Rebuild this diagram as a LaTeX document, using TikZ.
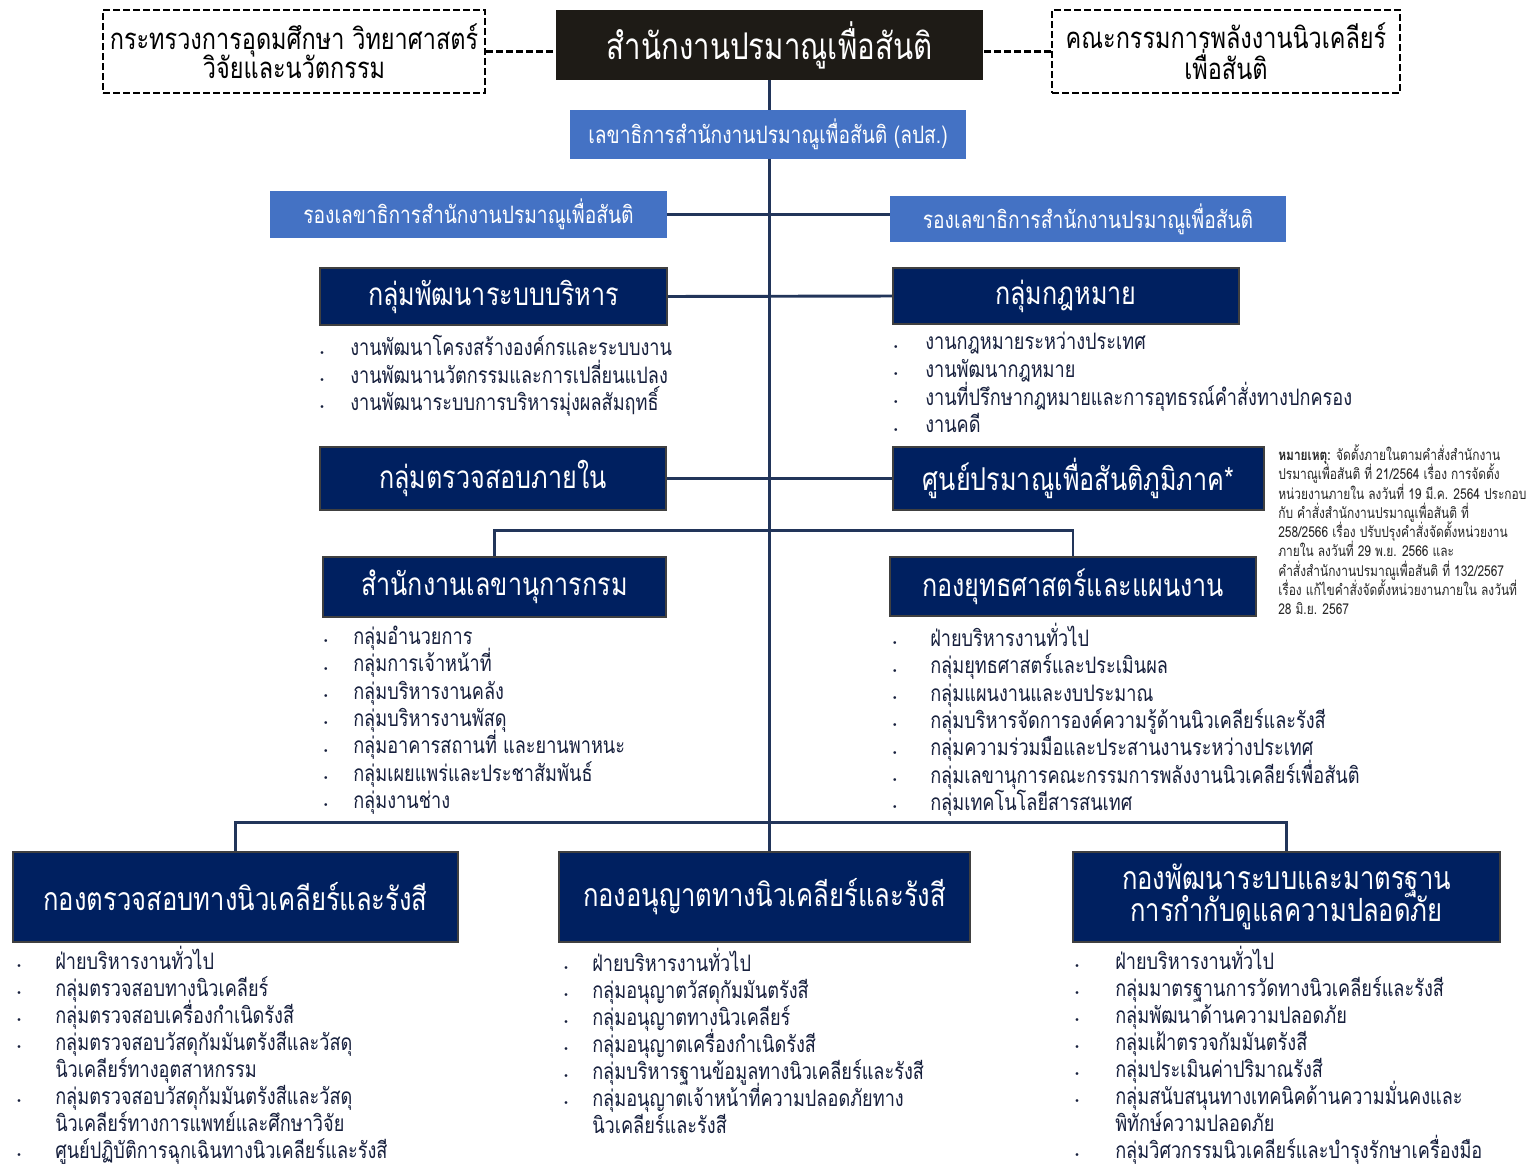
\documentclass[tikz,border=0pt]{standalone}
\usepackage{fontspec}
\setmainfont{Loma}[Script=Thai, FakeStretch=0.8]
\newfontfamily\dotfont{DejaVu Sans}
\usetikzlibrary{positioning, backgrounds}
\definecolor{oapnavy}{HTML}{002060}
\definecolor{oapblue}{HTML}{4472C4}
\definecolor{oapblack}{HTML}{1E1B16}
\definecolor{oapline}{HTML}{22355A}
\definecolor{oaptext}{HTML}{17203D}
\def\bulgap{19pt}
\newcommand{\itm}{\strut\llap{\raisebox{-0.3pt}{\dotfont\fontsize{7}{7}\selectfont •}\hspace{\bulgap}}}
\newcommand{\nxt}{\strut}
\newcommand{\evenlines}{\lineskiplimit=-50pt\lineskip=0pt}
\tikzset{
x=0.75pt, y=-0.75pt, % one unit is one pixel of the layout
every node/.style={inner sep=0pt}, % boxes get their size from minimum width/height
headbox/.style={fill=oapblack, text=white, font=\fontsize{27.6}{30}\selectfont}, % the office itself
dashbox/.style={draw=black, fill=white, dash pattern=on 5pt off 2.5pt, line width=1.8pt, align=center, font=\fontsize{22}{22}\selectfont\evenlines}, % outside bodies
bluebox/.style={fill=oapblue, text=white, font=\fontsize{18}{20}\selectfont}, % secretary general and deputies
unitbox/.style={fill=oapnavy, draw=black!75, line width=0.8pt, text=white, font=\fontsize{23.6}{26}\selectfont}, % groups and divisions
bigunit/.style={unitbox, align=center, font=\fontsize{24}{23.5}\selectfont\evenlines}, % the three bureaus at the bottom
itemlist/.style={anchor=north west, align=left, text=oaptext, font=\fontsize{17}{20.5}\selectfont\evenlines}, % bulleted sub units
bottomlist/.style={itemlist, font=\fontsize{17}{20.2}\selectfont\evenlines}, % a little tighter near the page edge
bullet gap/.style={execute at begin node={\def\bulgap{#1}}}, % space between dot and text
conn/.style={draw=oapline, line width=2.2pt}, % solid lines of command
dashconn/.style={draw=black, dash pattern=on 5pt off 2.5pt, line width=1.8pt}, % dashed links
}
\begin{document}
\begin{tikzpicture}
\useasboundingbox (0,0) rectangle (1532,1168);

% top row
\node[headbox, minimum width=320.25pt, minimum height=52.5pt] (oap) at (769.5,45) {สำนักงานปรมาณูเพื่อสันติ};
\node[dashbox, minimum width=286.5pt, minimum height=62.25pt] (mhesi) at (294,51.5) {กระทรวงการอุดมศึกษา วิทยาศาสตร์\\วิจัยและนวัตกรรม};
\node[dashbox, minimum width=261pt, minimum height=62.25pt, font=\fontsize{22}{23.5}\selectfont\evenlines] (aec) at (1226,51.5) {คณะกรรมการพลังงานนิวเคลียร์\\เพื่อสันติ};

% secretary general and deputies
\node[bluebox, minimum width=297pt, minimum height=36.75pt] (sec) at (768,134.5) {เลขาธิการสำนักงานปรมาณูเพื่อสันติ (ลปส.)};
\node[bluebox, minimum width=297.75pt, minimum height=35.25pt] (depL) at (468.5,214.5) {รองเลขาธิการสำนักงานปรมาณูเพื่อสันติ};
\node[bluebox, minimum width=297pt, minimum height=34.5pt] (depR) at (1088,219) {รองเลขาธิการสำนักงานปรมาณูเพื่อสันติ};

% groups beside the line
\node[unitbox, minimum width=260.25pt, minimum height=42.75pt] (admdev) at (493.5,296.5) {กลุ่มพัฒนาระบบบริหาร};
\node[unitbox, minimum width=259.5pt, minimum height=42pt] (legal) at (1066,296) {กลุ่มกฎหมาย};
\node[unitbox, minimum width=259.5pt, minimum height=47.25pt] (audit) at (493,478.5) {กลุ่มตรวจสอบภายใน};
\node[unitbox, minimum width=278.25pt, minimum height=47.25pt] (regional) at (1078.5,478.5) {ศูนย์ปรมาณูเพื่อสันติภูมิภาค*};

\node[itemlist] (admdev-list) at (350,335) {\itm งานพัฒนาโครงสร้างองค์กรและระบบงาน\\\itm งานพัฒนานวัตกรรมและการเปลี่ยนแปลง\\\itm งานพัฒนาระบบการบริหารมุ่งผลสัมฤทธิ์};
\node[itemlist, bullet gap=20pt, font=\fontsize{17}{20.8}\selectfont\evenlines] (legal-list) at (925,330) {\itm งานกฎหมายระหว่างประเทศ\\\itm งานพัฒนากฎหมาย\\\itm งานที่ปรึกษากฎหมายและการอุทธรณ์คำสั่งทางปกครอง\\\itm งานคดี};

% note on the regional centres
\node[anchor=north west, align=left, text=black!85, font=\fontsize{11.2}{14.44}\selectfont\evenlines] (note) at (1278,444.5) {\strut\textbf{หมายเหตุ:} จัดตั้งภายในตามคำสั่งสำนักงาน\\ปรมาณูเพื่อสันติ ที่ 21/2564 เรื่อง การจัดตั้ง\\หน่วยงานภายใน ลงวันที่ 19 มี.ค. 2564 ประกอบ\\กับ คำสั่งสำนักงานปรมาณูเพื่อสันติ ที่\\258/2566 เรื่อง ปรับปรุงคำสั่งจัดตั้งหน่วยงาน\\ภายใน ลงวันที่ 29 พ.ย. 2566 และ\\คำสั่งสำนักงานปรมาณูเพื่อสันติ ที่ 132/2567\\เรื่อง แก้ไขคำสั่งจัดตั้งหน่วยงานภายใน ลงวันที่\\28 มิ.ย. 2567};

% second level
\node[unitbox, minimum width=257.25pt, minimum height=45pt] (secoff) at (494.5,587) {สำนักงานเลขานุการกรม};
\node[unitbox, minimum width=274.5pt, minimum height=44.25pt] (strat) at (1073,586.5) {กองยุทธศาสตร์และแผนงาน};

\node[itemlist, bullet gap=18.5pt] (secoff-list) at (353,625) {\itm กลุ่มอำนวยการ\\\itm กลุ่มการเจ้าหน้าที่\\\itm กลุ่มบริหารงานคลัง\\\itm กลุ่มบริหารงานพัสดุ\\\itm กลุ่มอาคารสถานที่ และยานพาหนะ\\\itm กลุ่มเผยแพร่และประชาสัมพันธ์\\\itm กลุ่มงานช่าง};
\node[itemlist, bullet gap=24.5pt] (strat-list) at (930,623) {\itm ฝ่ายบริหารงานทั่วไป\\\itm กลุ่มยุทธศาสตร์และประเมินผล\\\itm กลุ่มแผนงานและงบประมาณ\\\itm กลุ่มบริหารจัดการองค์ความรู้ด้านนิวเคลียร์และรังสี\\\itm กลุ่มความร่วมมือและประสานงานระหว่างประเทศ\\\itm กลุ่มเลขานุการคณะกรรมการพลังงานนิวเคลียร์เพื่อสันติ\\\itm กลุ่มเทคโนโลยีสารสนเทศ};

% bureaus
\node[bigunit, minimum width=333.75pt, minimum height=67.5pt] (insp) at (235.5,897) {กองตรวจสอบทางนิวเคลียร์และรังสี};
\node[bigunit, minimum width=308.25pt, minimum height=67.5pt] (lic) at (764.5,897) {กองอนุญาตทางนิวเคลียร์และรังสี};
\node[bigunit, minimum width=320.25pt, minimum height=67.5pt] (std) at (1286.5,897) {กองพัฒนาระบบและมาตรฐาน\\การกำกับดูแลความปลอดภัย};

\node[bottomlist, bullet gap=25pt] (insp-list) at (55,946) {\itm ฝ่ายบริหารงานทั่วไป\\\itm กลุ่มตรวจสอบทางนิวเคลียร์\\\itm กลุ่มตรวจสอบเครื่องกำเนิดรังสี\\\itm กลุ่มตรวจสอบวัสดุกัมมันตรังสีและวัสดุ\\\nxt นิวเคลียร์ทางอุตสาหกรรม\\\itm กลุ่มตรวจสอบวัสดุกัมมันตรังสีและวัสดุ\\\nxt นิวเคลียร์ทางการแพทย์และศึกษาวิจัย\\\itm ศูนย์ปฏิบัติการฉุกเฉินทางนิวเคลียร์และรังสี};
\node[bottomlist, bullet gap=17.5pt] (lic-list) at (592,948) {\itm ฝ่ายบริหารงานทั่วไป\\\itm กลุ่มอนุญาตวัสดุกัมมันตรังสี\\\itm กลุ่มอนุญาตทางนิวเคลียร์\\\itm กลุ่มอนุญาตเครื่องกำเนิดรังสี\\\itm กลุ่มบริหารฐานข้อมูลทางนิวเคลียร์และรังสี\\\itm กลุ่มอนุญาตเจ้าหน้าที่ความปลอดภัยทาง\\\nxt นิวเคลียร์และรังสี};
\node[bottomlist, bullet gap=26.5pt] (std-list) at (1115,946) {\itm ฝ่ายบริหารงานทั่วไป\\\itm กลุ่มมาตรฐานการวัดทางนิวเคลียร์และรังสี\\\itm กลุ่มพัฒนาด้านความปลอดภัย\\\itm กลุ่มเฝ้าตรวจกัมมันตรังสี\\\itm กลุ่มประเมินค่าปริมาณรังสี\\\itm กลุ่มสนับสนุนทางเทคนิคด้านความมั่นคงและ\\\nxt พิทักษ์ความปลอดภัย\\\itm กลุ่มวิศวกรรมนิวเคลียร์และบำรุงรักษาเครื่องมือ};

% connectors, behind the boxes
\begin{scope}[on background layer]
\fill[white] (0,0) rectangle (1532,1168);
\draw[dashconn] (mhesi.east) -- (mhesi.east -| oap.west);
\draw[dashconn] (aec.west) -- (aec.west -| oap.east);
\draw[conn] (oap.south) -- (oap.south |- lic.north);
\draw[conn] (depL.east) -- (depL.east -| depR.west);
\draw[conn] (admdev.east) -- (legal.west);
\draw[conn] (audit.east) -- (regional.west);
\draw[conn] (secoff.north) -- ++(0,-26) -| (strat.north);
\draw[conn] (insp.north) -- ++(0,-29) -| (std.north);
\end{scope}
\end{tikzpicture}
\end{document}
